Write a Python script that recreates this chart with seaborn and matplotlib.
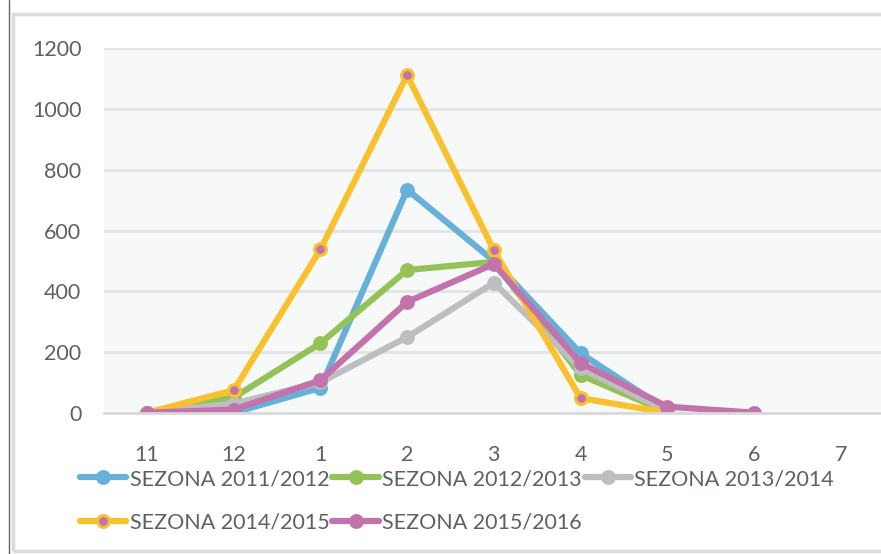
import matplotlib
matplotlib.use("Agg")
import matplotlib.pyplot as plt
import seaborn as sns
import pandas as pd
from matplotlib.lines import Line2D
from matplotlib.patches import Rectangle

months = ["11", "12", "1", "2", "3", "4", "5", "6", "7"]
s2011 = [0, 0, 82, 735, 500, 196, 8]
s2012 = [0, 50, 229, 470, 497, 124, 2]
s2013 = [0, 30, 100, 249, 428, 147, 5]
s2014 = [0, 74, 538, 1112, 535, 48, 0]
s2015 = [0, 10, 107, 365, 490, 164, 20, 0]
labels = ["SEZONA 2011/2012", "SEZONA 2012/2013", "SEZONA 2013/2014",
          "SEZONA 2014/2015", "SEZONA 2015/2016"]
series = [s2011, s2012, s2013, s2014, s2015]
colors = ["#66b0da", "#93c356", "#bdbec0", "#f9c12e", "#c273ac"]
yticks = [0, 200, 400, 600, 800, 1000, 1200]

rows = []
for lab, vals in zip(labels, series):
    for i, v in enumerate(vals):
        rows.append({"pos": i, "month": months[i], "value": v, "season": lab})
df = pd.DataFrame(rows)

sns.set_theme(style="white")
plt.rcParams["font.family"] = ["Lato", "DejaVu Sans"]

W, H = 881, 554
fig = plt.figure(figsize=(W / 100, H / 100), dpi=100)
left, right, top, bottom = 103.7, 884, 48.5, 412.7
ax = fig.add_axes([left / W, 1 - bottom / H, (right - left) / W, (bottom - top) / H])
ax.set_facecolor("#f7f9f9")

LW, MS = 4.5, 8.5
for lab, col in zip(labels, colors):
    sub = df[df.season == lab]
    mfc = "#c273ac" if lab == "SEZONA 2014/2015" else col
    sns.lineplot(data=sub, x="pos", y="value", ax=ax, color=col, lw=LW,
                 marker="o", markersize=MS, markerfacecolor=mfc,
                 markeredgecolor=col, markeredgewidth=2.2, label=lab,
                 legend=False, solid_joinstyle="miter")

ax.set_xlim(-0.5, len(months) - 0.5)
ax.set_ylim(0, 1200)
ax.set_yticks(yticks)
ax.set_yticklabels([str(t) for t in yticks])
ax.set_xticks(range(len(months)))
ax.set_xticklabels(months)
ax.set_xticks([i - 0.5 for i in range(len(months) + 1)], minor=True)
ax.tick_params(axis="x", which="major", length=0, pad=23, labelsize=15.5, labelcolor="#5b6266")
ax.tick_params(axis="x", which="minor", length=7, width=2, color="#d9d9d9", direction="out")
ax.tick_params(axis="y", length=0, pad=16, labelsize=15.5, labelcolor="#5b6266")
ax.set_xlabel("")
ax.set_ylabel("")
ax.grid(axis="y", color="#e3e3e3", lw=2)
ax.set_axisbelow(True)
for s in ["top", "right", "left"]:
    ax.spines[s].set_visible(False)
ax.spines["bottom"].set_color("#d9d9d9")
ax.spines["bottom"].set_linewidth(2)

handles = {}
for lab, col in zip(labels, colors):
    mfc = "#c273ac" if lab == "SEZONA 2014/2015" else col
    handles[lab] = Line2D([], [], color=col, lw=LW, marker="o", markersize=MS,
                          markerfacecolor=mfc, markeredgecolor=col, markeredgewidth=2.2)
# matplotlib fills legend columns first; reorder so rows read left to right
order = [0, 3, 1, 4, 2]
leg = fig.legend([handles[labels[i]] for i in order], [labels[i] for i in order],
                 loc="upper left", ncol=3,
                 bbox_to_anchor=(80 / W, 1 - 469 / H), frameon=False,
                 fontsize=15.5, handlelength=2.15, handletextpad=0.15,
                 columnspacing=0.15, labelspacing=1.1, borderpad=0, borderaxespad=0)
for t in leg.get_texts():
    t.set_color("#5b6266")

fig.add_artist(Line2D([9 / W, 9 / W], [0, 1], color="#666666", lw=1))
fig.add_artist(Rectangle((13 / W, 1 - 551 / H), (W + 20) / W, (551 - 14) / H,
                         transform=fig.transFigure, fill=False,
                         edgecolor="#dcdcdc", lw=2.5))

fig.savefig("out.png", dpi=100)
